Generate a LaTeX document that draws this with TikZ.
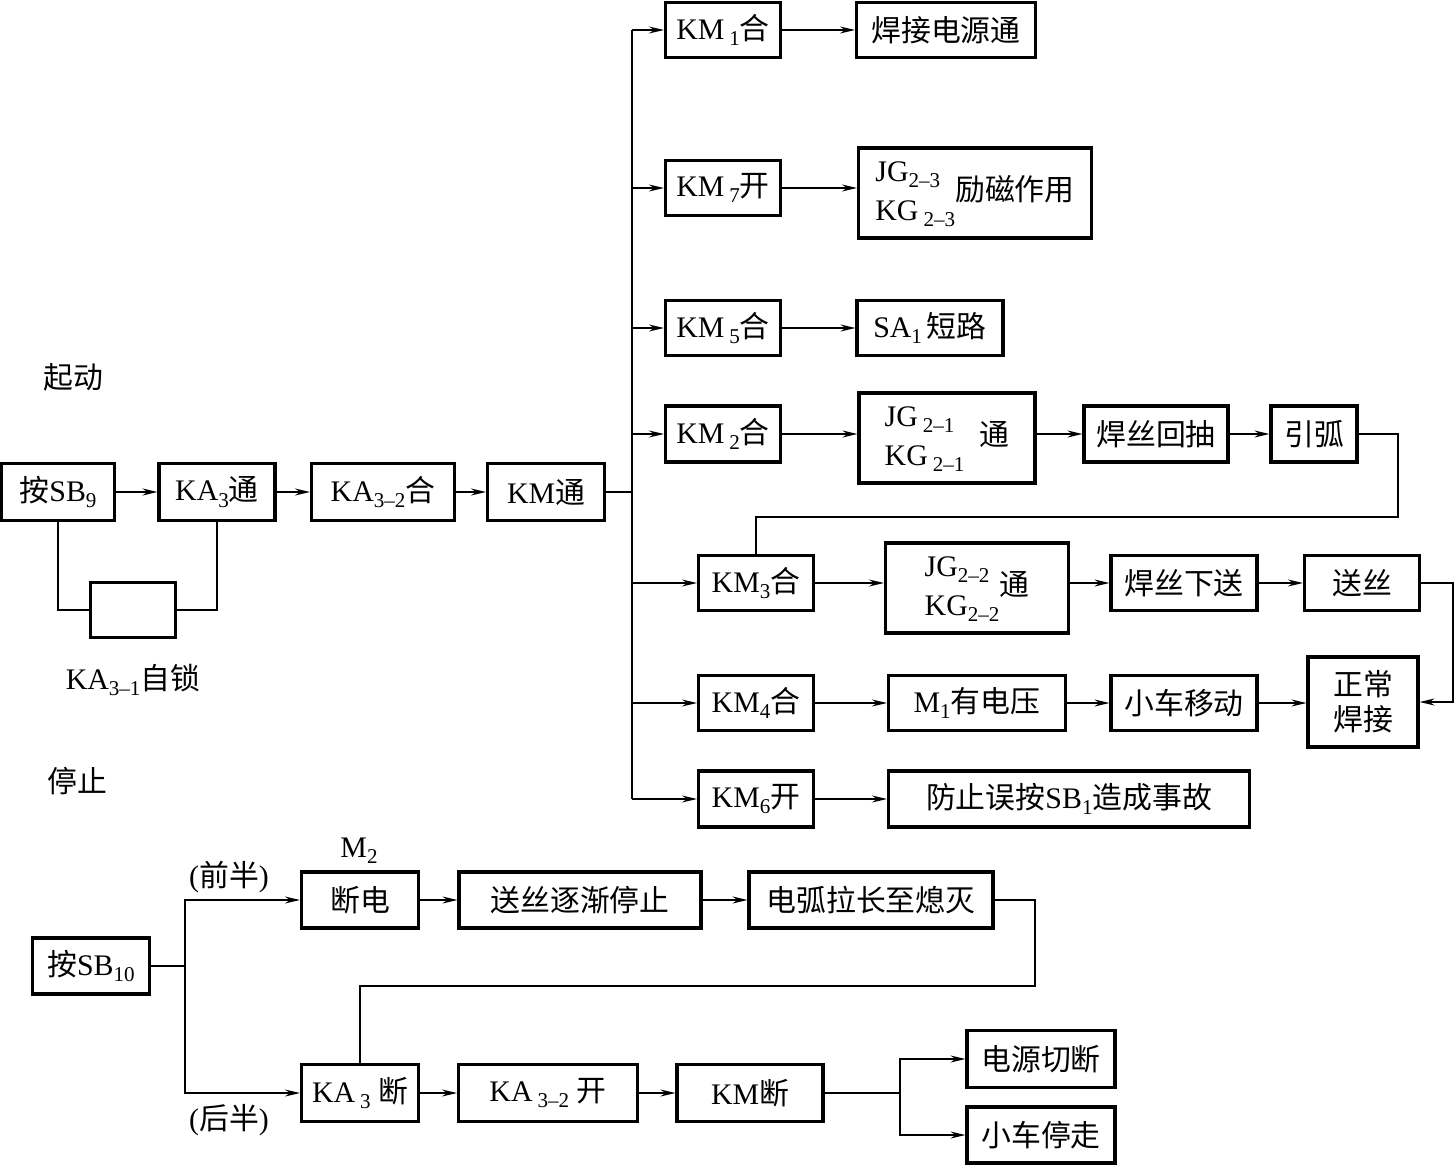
\documentclass[tikz,border=0pt]{standalone}
\usepackage{fontspec}
\setmainfont{Liberation Serif}
\newfontfamily\cjk{Noto Sans CJK SC}
\usetikzlibrary{arrows.meta}
\newcommand\zh[1]{{\cjk #1}}
\newcommand\lo[1]{\raisebox{-0.45ex}{\fontsize{12}{13}\selectfont #1}}
\renewcommand\arraystretch{1.1}

\begin{document}
\begin{tikzpicture}[x=0.02cm, y=-0.02cm, line width=0.8pt, font=\fontsize{17}{20}\selectfont]
		\tikzstyle{box} = [rectangle, draw=black, line width=1.8pt, minimum width=2.3cm, minimum height=1.1cm, inner sep=2pt, text centered]
		\tikzstyle{arrow} = [-{Stealth[length=3mm, width=1.4mm, inset=1mm]}]
		\useasboundingbox (0,0) rectangle (1456,1165);
		%-------------------------------------------------------
		% start part
		\node (start) at (73,377) {\zh{起动}};
		\node (sb9) [box, minimum width=2.26cm, minimum height=1.14cm] at (58,492) {\zh{按}SB\lo{9}};
		\node (ka3) [box, minimum width=2.32cm, minimum height=1.14cm] at (217,492) {KA\lo{3}\zh{通}};
		\node (ka32) [box, minimum width=2.86cm, minimum height=1.14cm] at (383,492) {KA\lo{3–2}\zh{合}};
		\node (km) [box, minimum width=2.34cm, minimum height=1.14cm] at (546,492) {KM\zh{通}};
		\node (lock) [box, minimum width=1.7cm, minimum height=1.1cm] at (133,610) {};
		\node (locktext) at (133,680) {KA\lo{3–1}\zh{自锁}};
		
		\node (km1) [box] at (723,30) {KM\,\lo{1}\zh{合}};
		\node (weld) [box, minimum width=3.58cm] at (946,30) {\zh{焊接电源通}};
		\node (km7) [box] at (723,188) {KM\,\lo{7}\zh{开}};
		\node (jg23) [box, minimum width=4.66cm, minimum height=1.8cm] at (975,193) {\begin{tabular}{@{}l@{}}JG\lo{2–3}\\KG\,\lo{2–3}\end{tabular}\zh{励磁作用}};
		\node (km5) [box] at (723,328) {KM\,\lo{5}\zh{合}};
		\node (sa1) [box, minimum width=2.92cm] at (930,328) {SA\lo{1}\,\zh{短路}};
		\node (km2) [box, minimum height=1.12cm] at (723,434) {KM\,\lo{2}\zh{合}};
		\node (jg21) [box, minimum width=3.52cm, minimum height=1.8cm] at (947,438) {\begin{tabular}{@{}l@{}}JG\,\lo{2–1}\\KG\,\lo{2–1}\end{tabular}\enspace\zh{通}};
		\node (back) [box, minimum width=2.88cm, minimum height=1.12cm] at (1156,434) {\zh{焊丝回抽}};
		\node (arc) [box, minimum width=1.72cm, minimum height=1.12cm] at (1314,434) {\zh{引弧}};
		\node (km3) [box] at (756,583) {KM\lo{3}\zh{合}};
		\node (jg22) [box, minimum width=3.66cm, minimum height=1.8cm] at (977,588) {\begin{tabular}{@{}l@{}}JG\lo{2–2}\\KG\lo{2–2}\end{tabular}\zh{通}};
		\node (down) [box, minimum width=2.92cm] at (1184,583) {\zh{焊丝下送}};
		\node (feed) [box] at (1362,583) {\zh{送丝}};
		\node (km4) [box] at (756,703) {KM\lo{4}\zh{合}};
		\node (m1) [box, minimum width=3.54cm] at (977,703) {M\lo{1}\zh{有电压}};
		\node (cart) [box, minimum width=2.92cm] at (1184,703) {\zh{小车移动}};
		\node (normal) [box, minimum width=2.2cm, minimum height=1.8cm, align=center] at (1363,702) {\zh{正常}\\\zh{焊接}};
		\node (km6) [box, minimum height=1.12cm] at (756,799) {KM\lo{6}\zh{开}};
		\node (prevent) [box, minimum width=7.22cm, minimum height=1.12cm] at (1069,799) {\zh{防止误按}SB\lo{1}\zh{造成事故}};
		
		%-------------------------------------------------------
		% stop part
		\node (stop) at (77,781) {\zh{停止}};
		\node (sb10) [box, minimum width=2.34cm, minimum height=1.12cm] at (91,966) {\zh{按}SB\lo{10}};
		\node (front) at (229,877) {(\zh{前半})};
		\node (rear) at (229,1120) {(\zh{后半})};
		\node (m2) at (359,851) {M\lo{2}};
		\node (off) [box, minimum width=2.34cm, minimum height=1.12cm] at (360,900) {\zh{断电}};
		\node (slow) [box, minimum width=4.84cm, minimum height=1.12cm] at (580,900) {\zh{送丝逐渐停止}};
		\node (arcext) [box, minimum width=4.88cm, minimum height=1.12cm] at (871,900) {\zh{电弧拉长至熄灭}};
		\node (ka3off) [box, minimum width=2.34cm, minimum height=1.14cm] at (360,1093) {KA\,\lo{3}\ \zh{断}};
		\node (ka32off) [box, minimum width=3.58cm, minimum height=1.14cm] at (548,1093) {KA\,\lo{3–2}\ \zh{开}};
		\node (kmoff) [box, minimum width=2.92cm, minimum height=1.14cm] at (750,1093) {KM\zh{断}};
		\node (power) [box, minimum width=2.96cm, minimum height=1.14cm] at (1041,1059) {\zh{电源切断}};
		\node (halt) [box, minimum width=2.96cm, minimum height=1.12cm] at (1041,1135) {\zh{小车停走}};
		
		%-------------------------------------------------------
		% connectors
		\draw [arrow] (sb9) -- (ka3);
		\draw [arrow] (ka3) -- (ka32);
		\draw [arrow] (ka32) -- (km);
		\draw (sb9.south) |- (lock.west);
		\draw (ka3.south) |- (lock.east);
		
		\coordinate (bus) at (632,492);
		\draw (km) -- (bus);
		\draw (bus |- km1.west) -- (bus |- km6.west);
		\foreach \n in {km1,km7,km5,km2,km3,km4,km6}
			\draw [arrow] (bus |- \n.west) -- (\n.west);
		
		\draw [arrow] (km1) -- (weld);
		\draw [arrow] (km7.east) -- (km7.east -| jg23.west);
		\draw [arrow] (km5) -- (sa1);
		\draw [arrow] (km2.east) -- (km2.east -| jg21.west);
		\draw [arrow] (back.west -| jg21.east) -- (back.west);
		\draw [arrow] (back) -- (arc);
		\coordinate (ret1) at (1398,517);
		\draw (arc.east) -| (ret1) -| (km3.north);
		\draw [arrow] (km3.east) -- (km3.east -| jg22.west);
		\draw [arrow] (down.west -| jg22.east) -- (down.west);
		\draw [arrow] (down) -- (feed);
		\coordinate (ret2) at (1453,640);
		\draw [arrow] (feed.east) -| (ret2) |- (normal.east);
		\draw [arrow] (km4) -- (m1);
		\draw [arrow] (m1) -- (cart);
		\draw [arrow] (cart.east) -- (cart.east -| normal.west);
		\draw [arrow] (km6) -- (prevent);
		
		\coordinate (split) at (185,966);
		\draw (sb10) -- (split);
		\draw [arrow] (split) |- (off.west);
		\draw [arrow] (split) |- (ka3off.west);
		\draw [arrow] (off) -- (slow);
		\draw [arrow] (slow) -- (arcext);
		\coordinate (ret3) at (1035,986);
		\draw (arcext.east) -| (ret3) -| (ka3off.north);
		\draw [arrow] (ka3off) -- (ka32off);
		\draw [arrow] (ka32off) -- (kmoff);
		\coordinate (split2) at (900,1093);
		\draw (kmoff) -- (split2);
		\draw [arrow] (split2) |- (power.west);
		\draw [arrow] (split2) |- (halt.west);
		\end{tikzpicture}
\end{document}
